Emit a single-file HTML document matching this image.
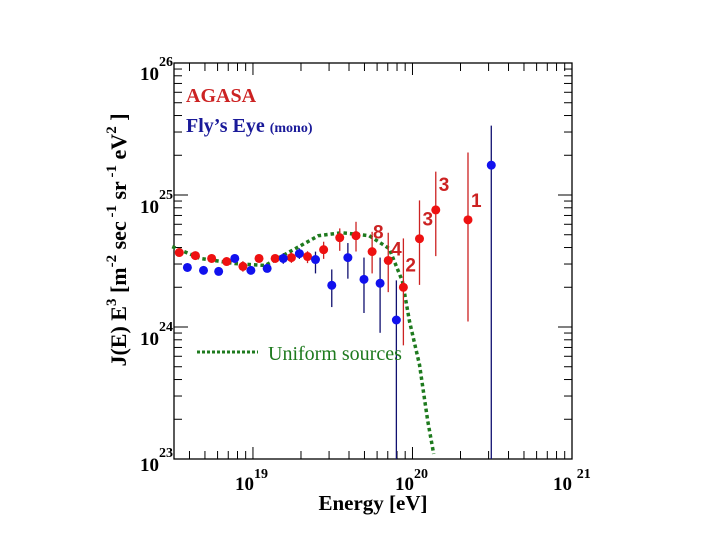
<!DOCTYPE html>
<html><head><meta charset="utf-8"><style>
body{margin:0;background:#fff}
svg text{font-family:"Liberation Serif",serif}
svg text.num{font-family:"Liberation Sans",sans-serif}
</style></head><body>
<svg id="c" width="720" height="540" viewBox="0 0 720 540" xmlns="http://www.w3.org/2000/svg">
<rect x="174" y="63" width="398" height="396" fill="#fff" stroke="#000" stroke-width="1.3"/>
<g id="ticks"></g>
<g id="curve"></g>
<g id="marks"></g>
<g font-weight="bold" font-size="19">
<text x="140" y="80">10<tspan dy="-14" font-size="14">26</tspan></text>
<text x="140" y="213">10<tspan dy="-14" font-size="14">25</tspan></text>
<text x="140" y="345">10<tspan dy="-14" font-size="14">24</tspan></text>
<text x="140" y="471">10<tspan dy="-14" font-size="14">23</tspan></text>
</g>
<g font-weight="bold" font-size="19">
<text x="235" y="490">10<tspan dy="-12" font-size="14">19</tspan></text>
<text x="395" y="490">10<tspan dy="-12" font-size="14">20</tspan></text>
<text x="553" y="490">10 <tspan dy="-12" font-size="14">21</tspan></text>
</g>
<text x="373" y="510" text-anchor="middle" font-weight="bold" font-size="21">Energy [eV]</text>
<text transform="translate(126,240) rotate(-90)" text-anchor="middle" font-weight="bold" font-size="22">J(E) E<tspan dy="-10" font-size="15">3</tspan><tspan dy="10"> [m</tspan><tspan dy="-10" font-size="15">-2</tspan><tspan dy="10"> sec</tspan><tspan dy="-10" font-size="15"> -1</tspan><tspan dy="10"> sr</tspan><tspan dy="-10" font-size="15"> -1</tspan><tspan dy="10"> eV</tspan><tspan dy="-10" font-size="15">2</tspan><tspan dy="10">   ]</tspan></text>
<text x="186" y="102" fill="#cc2222" font-weight="bold" font-size="20">AGASA</text>
<text x="186" y="132" fill="#1a1a99" font-weight="bold" font-size="20">Fly’s Eye <tspan font-size="14">(mono)</tspan></text>
<line x1="197" y1="352" x2="258" y2="352" stroke="#1e7a1e" stroke-width="3" stroke-dasharray="3,2"/>
<text x="268" y="360" fill="#1e7a1e" font-size="20">Uniform sources</text>
</svg>
<script>
const redLogE=[18.538,18.639,18.741,18.835,18.937,19.038,19.139,19.241,19.342,19.443,19.544,19.646,19.747,19.848,19.943,20.044,20.146,20.348];
const redLogJ=[24.564,24.541,24.519,24.496,24.459,24.519,24.519,24.526,24.534,24.586,24.677,24.692,24.571,24.504,24.301,24.669,24.887,24.812];
const redErrUp=[0.03,0.03,0.03,0.03,0.04,0.03,0.03,0.04,0.04,0.06,0.07,0.105,0.15,0.21,0.37,0.29,0.29,0.51];
const redErrDn=[0.03,0.03,0.03,0.03,0.04,0.03,0.03,0.04,0.05,0.07,0.10,0.12,0.165,0.24,0.44,0.35,0.35,0.77];
const blueLogE=[18.589,18.690,18.785,18.886,18.987,19.089,19.190,19.291,19.392,19.494,19.595,19.696,19.797,19.899,20.494];
const blueLogJ=[24.451,24.429,24.421,24.519,24.429,24.444,24.519,24.556,24.511,24.316,24.526,24.361,24.331,24.053,25.226];
const blueErrUp=[0.02,0.02,0.02,0.03,0.03,0.03,0.04,0.04,0.06,0.12,0.11,0.165,0.195,0.3,0.3];
const blueErrDn=[0.02,0.02,0.02,0.03,0.03,0.03,0.04,0.04,0.105,0.165,0.16,0.255,0.375,2,3];
const curveLogE=[18.494,18.671,18.886,19.076,19.266,19.411,19.557,19.728,19.854,19.937,19.981,20.044,20.095,20.133];
const curveLogJ=[24.609,24.519,24.481,24.466,24.594,24.692,24.714,24.692,24.594,24.346,24.045,23.714,23.293,23.038];
const labelText=['8','4','2','3','3','1'];
const labelIdx=[11,12,14,15,16,17];
const X0=174,X1=572,Y0=459,Y1=63,LX0=18.505,LX1=21,LY0=23,LY1=26;
const xs=v=>X0+(v-LX0)/(LX1-LX0)*(X1-X0);
const ys=v=>Math.min(Y0,Y0-(v-LY0)/(LY1-LY0)*(Y0-Y1));
const NS='http://www.w3.org/2000/svg';
function mk(t,a,p){const e=document.createElementNS(NS,t);for(const k in a)e.setAttribute(k,a[k]);p.appendChild(e);return e;}
const T=document.getElementById('ticks');
for(let d=18;d<=20;d++)for(let m=1;m<10;m++){const lv=d+Math.log10(m);if(lv<LX0||lv>LX1)continue;const x=xs(lv),L=m==1?12:8;
const a=mk('line',{x1:x,y1:Y0,x2:x,y2:Y0-L,stroke:'#000','stroke-width':1},T);


const b=mk('line',{x1:x,y1:Y1,x2:x,y2:Y1+L,stroke:'#000','stroke-width':1},T);

}
for(let d=23;d<26;d++)for(let m=1;m<10;m++){const y=ys(d+Math.log10(m)),L=m==1?14:8;
const a=mk('line',{x1:X0,y1:y,x2:X0+L,y2:y,stroke:'#000','stroke-width':1},T);


const b=mk('line',{x1:X1,y1:y,x2:X1-L,y2:y,stroke:'#000','stroke-width':1},T);

}
const C=document.getElementById('curve');
const pl=mk('polyline',{points:curveLogE.map((e,i)=>xs(e)+','+ys(curveLogJ[i])).join(' '),fill:'none',stroke:'#1e7a1e','stroke-width':3.5,'stroke-dasharray':'3.5,3'},C);


const M=document.getElementById('marks');
function series(E,J,U,D,col,bar,nm){E.forEach((e,i)=>{const x=xs(e);
const l=mk('line',{x1:x,y1:ys(J[i]+U[i]),x2:x,y2:ys(J[i]-D[i]),stroke:bar,'stroke-width':1.3},M);


const c=mk('circle',{cx:x,cy:ys(J[i]),r:4.5,fill:col},M);

});}
series(redLogE,redLogJ,redErrUp,redErrDn,'#ee1111','#cc2222','agasa');
series(blueLogE,blueLogJ,blueErrUp,blueErrDn,'#1111ee','#101070','flys-eye');
const off=[[17,3],[19,4],[2,-16],[3,-13],[3,-19],[3,-13]];
labelIdx.forEach((k,i)=>{const t=mk('text',{x:xs(redLogE[k])+off[i][0],y:ys(redLogJ[k])+off[i][1],fill:'#cc2222','font-weight':'bold','font-size':19,'class':'num'},M);
t.textContent=labelText[i];

});
</script>
</body></html>
